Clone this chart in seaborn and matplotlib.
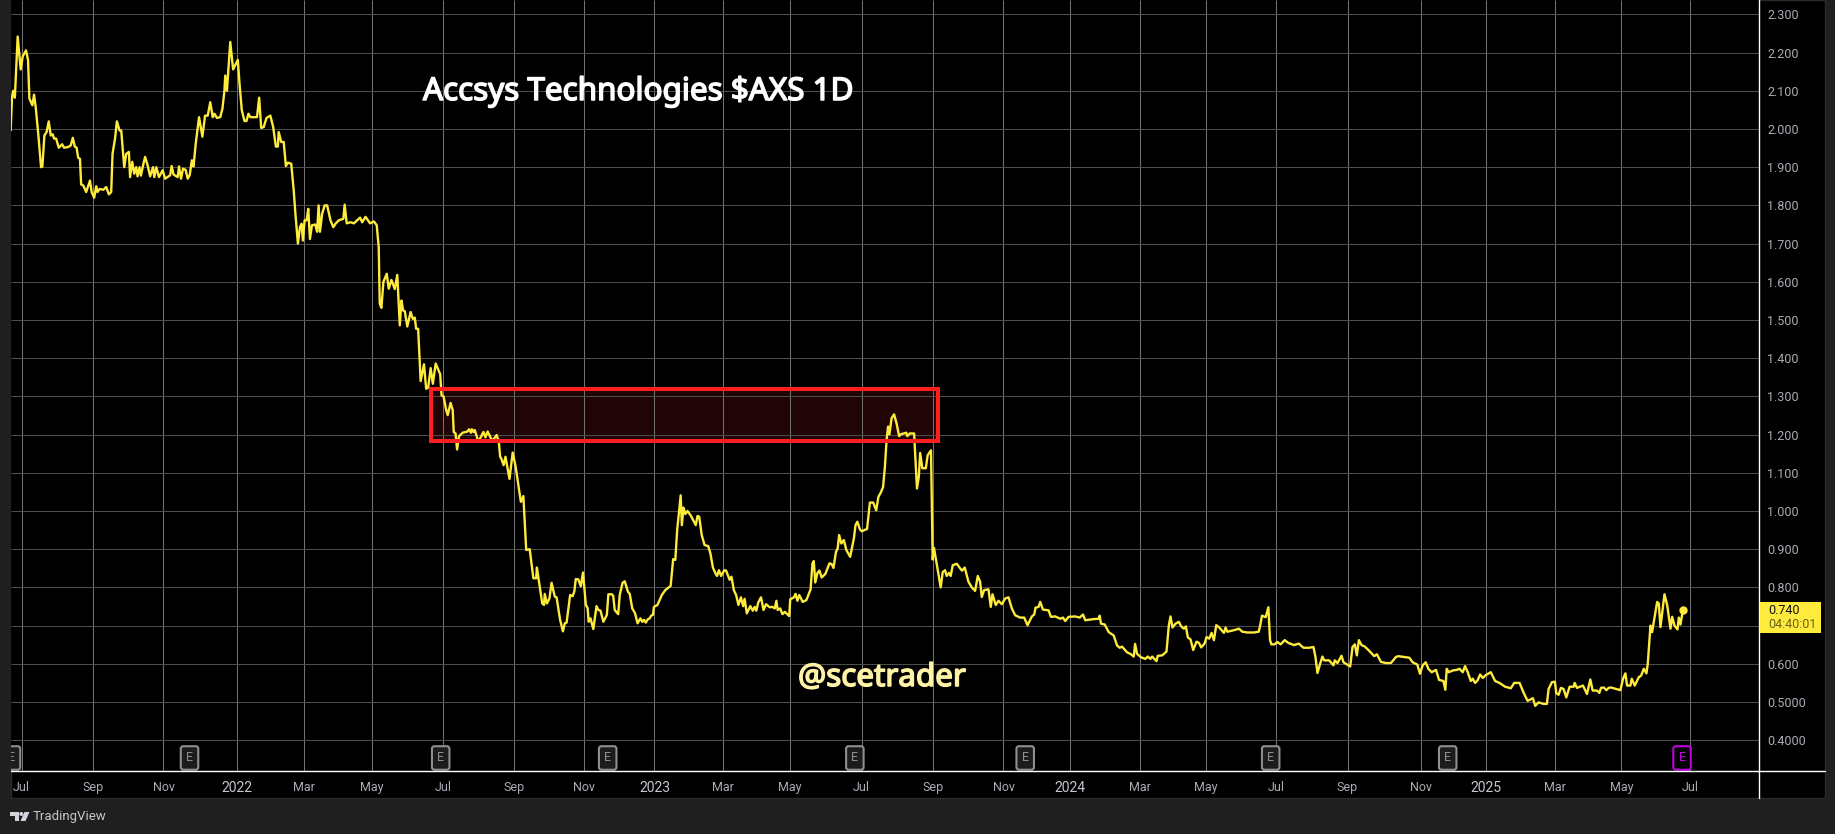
import matplotlib
matplotlib.use("Agg")
import matplotlib.pyplot as plt
import matplotlib.patches as patches
import matplotlib.patheffects as pe
from matplotlib.lines import Line2D
import seaborn as sns

# x is the session number counted from Jul 2021, y the daily close
bars = [
 -6.5,-5.7,-5,-4,-2.3,-0.5,0.7,2.7,3.9,4.7,
 6.5,7.5,8.5,10,11.7,12.5,13.7,15,16.3,17.5,
 18.7,19.5,20.7,22.3,24.3,25.5,28,29.5,30.7,31.9,
 33,33.9,35,35.7,37,38.7,41,42,43.5,44.7,
 45.5,46.7,49,50.7,52.3,53.7,54.5,56,57.1,58.7,
 59.7,60.7,61.5,62.7,64.3,65,66.3,67.5,68.7,69.5,
 70.7,71.5,73,74,75.5,77,78.7,79.5,80.7,82.3,
 84.5,86,89,89.9,91,93.5,94.3,95.5,96.7,98.3,
 99.5,100.7,102,103,104.3,106.3,108.3,109.9,111.5,113,
 114.5,115.5,117,119,120.3,121.5,122,123,125,126.7,
 129.5,130.7,131.9,133.5,134.7,135.9,137,141,142.3,143.5,
 145,146.7,149,150.7,152.3,153.5,154,155.5,157,158.3,
 159.5,161.5,163,164,165.5,166.7,167.7,168.5,169.5,170.7,
 171.7,172.7,173.9,175.9,177,177.9,178.7,180,181.5,183,
 185,186.7,188,190,192.7,193.5,194.7,197,199,202.7,
 204,206,208.7,211,212.7,213.9,214.5,215.5,216.7,218.7,
 219.9,221.5,223.5,225,226.5,227.5,228.5,229.5,231,233,
 234.3,235.5,236.3,237.5,239,241,242.3,243.5,245,246.3,
 248,250.7,251.5,252.7,254.3,255.2,256.9,258.2,258.8,259.9,
 260.8,262,264.2,267,268,269.1,269.7,270.6,271.4,273.6,
 276.6,277.8,279.1,281.9,284.5,285.8,286.6,287.2,288.7,289.8,
 292.2,294.1,295.8,299,300.5,302.2,304.3,306.5,308.2,308.6,
 311.8,312.9,313.3,314.6,316.1,317.4,319.3,320.4,322.5,324.2,
 325.3,326.4,328.5,330,331,331.9,333.4,334.9,336.2,337.9,
 339,339.6,340.7,342.4,344.3,345.4,346.7,348.4,350.5,351.4,
 353.5,354.3,355.2,357.3,358.2,359.9,361.2,363.1,364.2,365.7,
 367.4,368.9,370.6,371.7,372.7,373.8,374.9,376.1,377,378.1,
 378.7,380.8,383.4,385.5,388.7,390.2,391.5,392.6,394.7,395.4,
 396.4,397.5,398.8,400.9,403.7,404.8,405.8,407.3,409,411.2,
 412.5,414,415.5,416.5,417.6,418.9,420.8,421.9,424,425.1,
 426.6,427.9,429.3,430.8,432.1,433,434.3,436.4,437.9,439,
 440,441.1,442.8,444.3,445.8,448,449.6,451,452,452.8,
 454.3,455.6,457.1,459.7,460.3,462.5,463.5,464.6,465.7,467.8,
 470,472.5,473.6,474.4,475.3,476.6,477.8,479.1,481.3,483.8,
 485.1,486.2,487.7,488.7,489.6,490.9,492.4,493.9,496.2,498.4,
 499.4,500.5,502,503.1,506.3,508,510,511.8,513.1,514.6,
 515.9,517,518,518.9,519.7,521,522.5,524,525.5,526.6,
 529.8,530.4,531.9,534.5,535.1,536.2,537.3,538.1,539.4,541.5,
 542.6,544.6,545.6,546.4,547.6,549,550.4,551.6,553,554,
 555.4,556.4,557.6,560,562,563.2,564.8,567,569,571,
 572.6,574,575,576.4,579,580.4,581.4,583.4,585,587,
 589,591,593,595,598,600.4,602.4,605,606.4,607.2,
 609,610,611.6,615,616.4,619,622,623.6,625,627,
 631,633.6,635.6,637,642,645,645.6,646.4,648.6,651,
 654,656,657.6,659,662,664,666,666.8,668,670.4,
 673,674.4,676,677,679.6,680.4,683,685.6,687,688,
 689.2,691,693,694.4,696,697.2,698.4,700,701.6,703.6,
 705,706.4,708.4,709.6,711.2,712.6,714,715.4,717,720,
 721,722,726,729,731,734,738,740.8,741.6,742.8,
 745,746.6,747.6,748.4,750.4,752,754,756.4,758.4,762,
 764.8,767.6,771,773.6,774.8,776,777.6,779,780,783,
 785.6,786.4,788,790.4,791.6,795.6,797,798.4,799.6,800.8,
 802.4,804.4,807,810,811.6,814,817,820,823,824.4,
 831,833,835.8,837.4,839,840.8,842.4,844.4,847,848.8,
 851.4,852.6,853.4,854.6,857.4,859.4,861,863,864.4,866,
 867.8,869,870.4,871.8,873.4,875,877,879.8,882.4,885,
 888.4,891.8,893.8,897,899.4,901.8,905,906.4,908.4,911.4,
 913.4,914.4,916.4,918.2,919,920.4,921.8,923.4,925,927,
 929.4,930,931.4,935,937.4,939.4,940.8,943.4,944.8,945.8,
 947.4,949,950.4,951.8,953.4,957.4,959,960.4,961.4,963.4,
 964.2,966,968.4,969.8,971.4,973,973.8,975.4,976.4,979.4,
 980.4,981.4,983.8,985.4,987.4,988.4,989.8,991.6,992.4,993.4,
 994.8,
]
closes = [
 1.996,2.084,2.10,2.082,2.242,2.156,2.19,2.206,2.18,2.08,
 2.062,2.09,2.057,1.988,1.90,1.902,1.983,1.992,2.02,1.983,
 1.986,1.975,1.975,1.951,1.96,1.951,1.953,1.957,1.977,1.954,
 1.951,1.925,1.922,1.855,1.852,1.835,1.865,1.835,1.82,1.85,
 1.835,1.843,1.841,1.848,1.829,1.835,1.935,1.975,2.02,1.996,
 1.996,1.944,1.90,1.935,1.94,1.874,1.914,1.883,1.90,1.876,
 1.90,1.878,1.909,1.927,1.905,1.876,1.90,1.874,1.90,1.874,
 1.892,1.87,1.879,1.903,1.881,1.874,1.902,1.87,1.896,1.893,
 1.87,1.879,1.918,1.902,1.961,2.031,1.98,2.035,2.035,2.07,
 2.031,2.04,2.029,2.031,2.053,2.10,2.14,2.10,2.228,2.156,
 2.181,2.11,2.049,2.021,2.021,2.04,2.031,2.031,2.082,2.003,
 2.005,2.029,2.035,2.005,1.954,1.954,1.992,1.966,1.966,1.903,
 1.912,1.909,1.839,1.778,1.70,1.743,1.752,1.708,1.761,1.761,
 1.791,1.712,1.748,1.75,1.731,1.80,1.731,1.778,1.80,1.80,
 1.761,1.743,1.752,1.761,1.765,1.802,1.753,1.756,1.753,1.768,
 1.756,1.77,1.753,1.758,1.748,1.69,1.543,1.532,1.60,1.621,
 1.582,1.605,1.581,1.618,1.486,1.551,1.525,1.523,1.483,1.521,
 1.503,1.506,1.477,1.477,1.34,1.384,1.32,1.323,1.374,1.333,
 1.386,1.358,1.303,1.30,1.264,1.251,1.283,1.264,1.207,1.203,
 1.161,1.196,1.205,1.208,1.214,1.205,1.214,1.207,1.212,1.181,
 1.207,1.193,1.208,1.183,1.199,1.181,1.142,1.138,1.12,1.142,
 1.084,1.153,1.118,1.024,1.039,0.898,0.90,0.824,0.824,0.852,
 0.758,0.754,0.783,0.758,0.771,0.812,0.776,0.774,0.715,0.685,
 0.706,0.708,0.78,0.777,0.789,0.822,0.821,0.803,0.839,0.755,
 0.745,0.71,0.719,0.691,0.751,0.741,0.739,0.71,0.728,0.782,
 0.782,0.778,0.741,0.73,0.78,0.812,0.816,0.789,0.783,0.745,
 0.732,0.706,0.719,0.71,0.715,0.708,0.716,0.719,0.726,0.728,
 0.749,0.754,0.78,0.793,0.804,0.874,0.872,0.95,1.041,0.963,
 1.009,0.992,1.0,0.987,0.963,0.987,0.985,0.937,0.911,0.908,
 0.889,0.852,0.837,0.83,0.845,0.83,0.845,0.844,0.82,0.828,
 0.792,0.78,0.754,0.774,0.751,0.77,0.732,0.751,0.739,0.749,
 0.739,0.76,0.774,0.741,0.756,0.748,0.749,0.745,0.765,0.741,
 0.745,0.73,0.736,0.725,0.769,0.774,0.783,0.765,0.78,0.762,
 0.767,0.795,0.863,0.869,0.813,0.838,0.844,0.826,0.835,0.863,
 0.861,0.851,0.893,0.902,0.937,0.915,0.924,0.898,0.88,0.928,
 0.963,0.972,0.952,0.947,0.953,1.022,1.022,1.002,1.037,1.049,
 1.063,1.116,1.186,1.221,1.201,1.243,1.253,1.229,1.196,1.201,
 1.205,1.196,1.203,1.203,1.15,1.059,1.09,1.152,1.112,1.112,
 1.146,1.159,0.873,0.903,0.872,0.837,0.80,0.84,0.845,0.83,
 0.838,0.83,0.858,0.862,0.85,0.844,0.852,0.815,0.80,0.791,
 0.83,0.815,0.775,0.793,0.795,0.749,0.782,0.754,0.765,0.756,
 0.771,0.774,0.745,0.727,0.721,0.721,0.701,0.724,0.729,0.747,
 0.749,0.762,0.742,0.74,0.723,0.724,0.718,0.721,0.712,0.723,
 0.724,0.721,0.729,0.714,0.717,0.718,0.726,0.705,0.703,0.683,
 0.674,0.648,0.642,0.645,0.63,0.626,0.619,0.652,0.626,0.617,
 0.613,0.619,0.613,0.619,0.607,0.621,0.622,0.632,0.70,0.724,
 0.695,0.705,0.71,0.698,0.692,0.698,0.669,0.664,0.636,0.658,
 0.655,0.643,0.653,0.67,0.666,0.681,0.662,0.701,0.696,0.681,
 0.695,0.684,0.688,0.692,0.684,0.682,0.682,0.684,0.698,0.726,
 0.722,0.748,0.662,0.651,0.651,0.657,0.651,0.662,0.655,0.649,
 0.653,0.642,0.642,0.644,0.618,0.576,0.60,0.619,0.609,0.609,
 0.596,0.609,0.602,0.621,0.604,0.593,0.644,0.651,0.622,0.662,
 0.649,0.645,0.634,0.62,0.625,0.605,0.602,0.602,0.618,0.62,
 0.616,0.604,0.598,0.574,0.596,0.604,0.587,0.578,0.584,0.558,
 0.555,0.532,0.587,0.578,0.583,0.584,0.587,0.578,0.594,0.578,
 0.555,0.561,0.55,0.556,0.572,0.563,0.571,0.578,0.555,0.55,
 0.54,0.536,0.55,0.55,0.525,0.503,0.51,0.49,0.499,0.495,
 0.495,0.534,0.552,0.553,0.523,0.519,0.537,0.534,0.512,0.54,
 0.54,0.55,0.537,0.543,0.521,0.559,0.53,0.53,0.524,0.537,
 0.538,0.531,0.537,0.538,0.536,0.531,0.561,0.575,0.543,0.543,
 0.561,0.543,0.565,0.569,0.587,0.575,0.60,0.70,0.683,0.762,
 0.758,0.696,0.782,0.754,0.692,0.723,0.70,0.69,0.721,0.703,
 0.74,
]

tick_bars = [0,43,85,129,169,210,252.4,295,337,379,420,460,503,546,588,628,670,709,751,794,838,877,918,958,999]
tick_labels = ['Jul','Sep','Nov','2022','Mar','May','Jul','Sep','Nov','2023','Mar','May','Jul','Sep','Nov','2024','Mar','May','Jul','Sep','Nov','2025','Mar','May','Jul']
price_ticks = [2.3,2.2,2.1,2.0,1.9,1.8,1.7,1.6,1.5,1.4,1.3,1.2,1.1,1.0,0.9,0.8,0.7,0.6,0.5,0.4]
# 0.700 is hidden behind the last price tag
price_labels = ['2.300','2.200','2.100','2.000','1.900','1.800','1.700','1.600','1.500','1.400','1.300','1.200','1.100','1.000','0.900','0.800','','0.600','0.5000','0.4000']
earnings_bars = [-6,100.6,251,351,499,601,748,854,994.3]
zone_bars = [245.2,548.8]
zone_prices = [1.183,1.319]

W, H = 1835, 834
BG = '#1f1f1f'
YELLOW = '#ffeb3b'
GREY = '#a9acb4'

sns.set_theme(style="dark")
plt.rcParams['font.family'] = ['Roboto', 'DejaVu Sans']

def fx(x): return x / W
def fy(y): return 1 - y / H

fig = plt.figure(figsize=(W / 100, H / 100), dpi=100, facecolor=BG)
ax = fig.add_axes([fx(10.5), fy(771), (1759 - 10.5) / W, 771 / H], facecolor='black')

# black strips below and right of the plot
fig.add_artist(patches.Rectangle((fx(10.5), fy(798)), (1825 - 10.5) / W, 798 / H, transform=fig.transFigure,
                                 facecolor='black', edgecolor='#2b2b2b', lw=1, zorder=-1))

ax.fill_between(zone_bars, zone_prices[0], zone_prices[1], color='#1f0505', lw=0, zorder=0.5)
ax.vlines(tick_bars, 0, 1, transform=ax.get_xaxis_transform(), color='#737373', lw=0.72, zorder=1)
ax.hlines(price_ticks, 0, 1, transform=ax.get_yaxis_transform(), color='#4c4c4c', lw=0.72, zorder=1)

sns.lineplot(x=bars, y=closes, color=YELLOW, lw=1.7, estimator=None, sort=False, ax=ax, zorder=3)
ax.plot(bars[-1], closes[-1], 'o', color=YELLOW, ms=5, zorder=4)
ax.add_patch(patches.Rectangle((zone_bars[0], zone_prices[0]), zone_bars[1] - zone_bars[0],
                               zone_prices[1] - zone_prices[0], fill=False, edgecolor='#fb1f1f', lw=2.9, zorder=5))

ax.set_xlim(-6.6, 1040.4)
ax.set_ylim(0.3194, 2.3377)
ax.set_xticks(tick_bars)
ax.set_xticklabels(tick_labels)
ax.set_yticks(price_ticks)
ax.set_yticklabels(price_labels)
ax.yaxis.tick_right()
ax.tick_params(axis='x', length=0, pad=7, colors=GREY, labelsize=9)
ax.tick_params(axis='y', length=0, pad=6, colors=GREY, labelsize=9)
for lab in ax.get_xticklabels():
    if lab.get_text().startswith('20'):
        lab.set_fontsize(10)
        lab.set_color('#c4c7ce')
for s in ax.spines.values():
    s.set_visible(False)

fig.add_artist(Line2D([fx(1759), fx(1759)], [fy(0), fy(798)], color='white', lw=1))
fig.add_artist(Line2D([fx(10.5), fx(1825)], [fy(771), fy(771)], color='white', lw=1))

# earnings markers along the bottom
etrans = ax.get_xaxis_transform()
for i, b in enumerate(earnings_bars):
    last = i == len(earnings_bars) - 1
    c = '#c000e0' if last else '#8f8f8f'
    ax.text(b, 0.0169, 'E', transform=etrans, ha='center', va='center', fontsize=9, color=c, zorder=6,
            clip_on=True, bbox=dict(boxstyle='round,pad=0.42,rounding_size=0.2', fc='black' if last else '#1c1c1c', ec=c, lw=1.5))

# last price tag
fig.add_artist(patches.Rectangle((fx(1759.5), fy(633)), 61 / W, 31 / H, transform=fig.transFigure,
                                 facecolor=YELLOW, edgecolor='none', zorder=3))
fig.text(fx(1768), fy(610.5), '0.740', color='#131313', fontsize=9, va='center', zorder=4)
fig.text(fx(1768), fy(625), '04:40:01', color='#6b6320', fontsize=9, va='center', zorder=4)

fig.text(fx(423), fy(92), 'Accsys Technologies \\$AXS 1D', color='white', fontsize=22.6, family='Noto Sans',
         va='center', ha='left', path_effects=[pe.withStroke(linewidth=1.1, foreground='white')])
fig.text(fx(798), fy(678), '@scetrader', color='#fff3a6', fontsize=22.6, family='Noto Sans',
         va='center', ha='left', path_effects=[pe.withStroke(linewidth=1.1, foreground='#fff3a6')])

# footer logo and wordmark
logo = fig.add_axes([fx(10), fy(822), 20 / W, 10 / H])
logo.set_xlim(10, 30)
logo.set_ylim(822, 812)
logo.axis('off')
logo.add_patch(patches.Polygon([(10, 812), (19, 812), (19, 821), (15, 821), (15, 816), (10, 816)], color='#d1d4dc', lw=0))
logo.add_patch(patches.Circle((21.3, 814), 2, color='#d1d4dc', lw=0))
logo.add_patch(patches.Polygon([(24.5, 812), (29.5, 812), (25.5, 821), (20.5, 821)], color='#d1d4dc', lw=0))
fig.text(fx(33), fy(816.5), 'TradingView', color='#c4c7cf', fontsize=9.5, va='center', ha='left')

fig.savefig('out.png', dpi=100, facecolor=fig.get_facecolor())
